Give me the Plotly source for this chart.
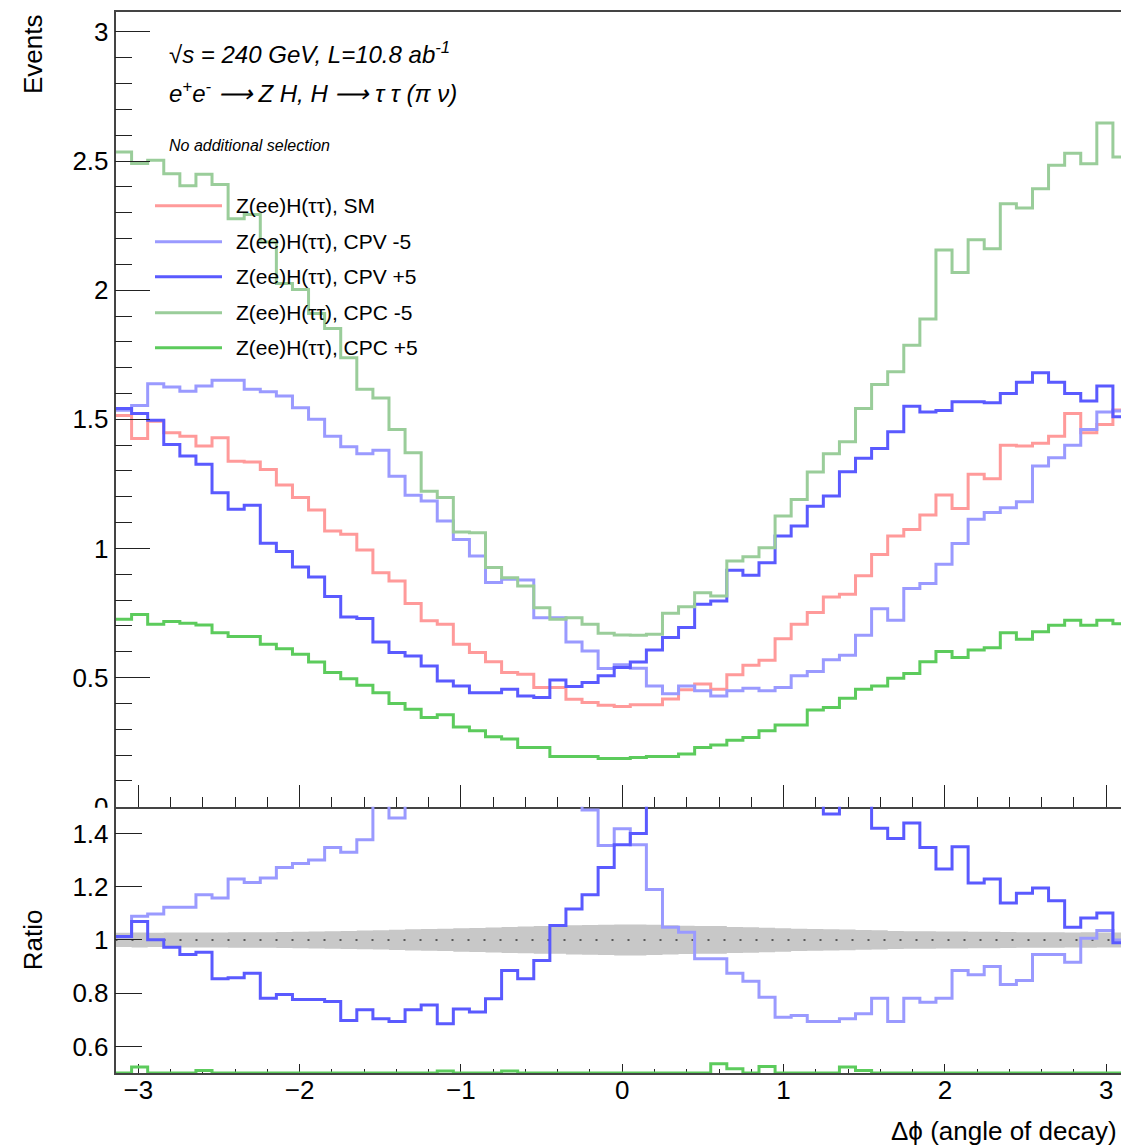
import numpy as np
import plotly.graph_objects as go

# ---------------- data (63 bins in [-pi, pi]) ----------------
N_BINS = 63

sm = [1.515, 1.426, 1.493, 1.448, 1.435, 1.397, 1.429, 1.338, 1.335, 1.306,
      1.246, 1.197, 1.149, 1.068, 1.055, 0.994, 0.906, 0.874, 0.787, 0.720,
      0.707, 0.629, 0.597, 0.562, 0.520, 0.513, 0.462, 0.462, 0.416, 0.404,
      0.393, 0.388,
      0.395, 0.395, 0.417, 0.453, 0.475, 0.455, 0.511, 0.548, 0.567, 0.651,
      0.707, 0.752, 0.812, 0.823, 0.894, 0.977, 1.048, 1.074, 1.130, 1.207,
      1.155, 1.287, 1.270, 1.400, 1.397, 1.407, 1.435, 1.523, 1.448, 1.480,
      1.536]

cpv_m5 = [1.535, 1.554, 1.638, 1.625, 1.609, 1.629, 1.651, 1.651, 1.616, 1.607,
          1.590, 1.545, 1.500, 1.435, 1.394, 1.367, 1.380, 1.280, 1.206, 1.184,
          1.106, 1.035, 0.971, 0.868, 0.881, 0.878, 0.732, 0.732, 0.638, 0.603,
          0.535, 0.550,
          0.536, 0.468, 0.438, 0.468, 0.449, 0.429, 0.449, 0.459, 0.449, 0.462,
          0.507, 0.524, 0.569, 0.587, 0.664, 0.767, 0.722, 0.845, 0.864, 0.939,
          1.019, 1.113, 1.139, 1.158, 1.181, 1.319, 1.351, 1.400, 1.461, 1.528,
          1.532]

cpv_p5 = [1.542, 1.523, 1.496, 1.403, 1.358, 1.326, 1.216, 1.152, 1.167, 1.020,
          0.988, 0.928, 0.890, 0.814, 0.735, 0.729, 0.638, 0.597, 0.584, 0.545,
          0.487, 0.468, 0.442, 0.442, 0.455, 0.429, 0.423, 0.491, 0.466, 0.481,
          0.507, 0.539,
          0.561, 0.607, 0.655, 0.694, 0.784, 0.797, 0.916, 0.896, 0.945, 1.048,
          1.087, 1.164, 1.203, 1.297, 1.349, 1.387, 1.452, 1.551, 1.528, 1.534,
          1.568, 1.568, 1.564, 1.600, 1.644, 1.680, 1.644, 1.600, 1.571, 1.629,
          1.510]

cpc_m5 = [2.535, 2.490, 2.503, 2.451, 2.404, 2.449, 2.409, 2.277, 2.293, 2.187,
          2.026, 2.003, 1.910, 1.852, 1.738,
          1.616, 1.583, 1.461, 1.371, 1.222, 1.197, 1.064, 1.061, 0.926, 0.887,
          0.855, 0.771, 0.726, 0.732, 0.707, 0.672, 0.665,
          0.664, 0.668, 0.749, 0.774, 0.829, 0.816, 0.952, 0.968, 1.003, 1.126,
          1.190, 1.296, 1.367, 1.413, 1.542, 1.635, 1.684, 1.787,
          1.888, 2.156, 2.068, 2.195, 2.160, 2.335, 2.318, 2.393, 2.484, 2.530,
          2.489, 2.647, 2.516]

cpc_p5 = [0.726, 0.744, 0.707, 0.717, 0.711, 0.704, 0.674, 0.659, 0.659, 0.629,
          0.612, 0.591, 0.561, 0.520, 0.496, 0.471, 0.442, 0.400, 0.378, 0.346,
          0.356, 0.309, 0.294, 0.271, 0.262, 0.230, 0.230, 0.195, 0.195, 0.195,
          0.187, 0.187,
          0.191, 0.195, 0.195, 0.204, 0.230, 0.239, 0.258, 0.268, 0.294, 0.317,
          0.317, 0.375, 0.384, 0.420, 0.455, 0.468, 0.498, 0.516, 0.562, 0.601,
          0.578, 0.607, 0.616, 0.674, 0.649, 0.678, 0.703, 0.722, 0.703, 0.722,
          0.709]

# ratios to SM as read from the lower pad
ratio_cpv_p5 = [1.0125, 1.069, 1.001, 0.9725, 0.945, 0.954, 0.854, 0.858, 0.875, 0.781,
                0.795, 0.776, 0.776, 0.769, 0.6975, 0.7375, 0.704, 0.694, 0.7375, 0.756,
                0.685, 0.741, 0.729, 0.779, 0.885, 0.854, 0.9225, 1.054, 1.116, 1.17,
                1.2725, 1.3575, 1.40,
                1.54, 1.57, 1.53, 1.65, 1.75, 1.79, 1.64, 1.67, 1.61, 1.54,
                1.55, 1.4725, 1.58, 1.52,
                1.419, 1.381, 1.439, 1.3475, 1.266, 1.35, 1.214, 1.229, 1.139, 1.175,
                1.195, 1.1475, 1.0475, 1.0825, 1.101, 0.989]

ratio_cpv_m5 = [1.012, 1.089, 1.0975, 1.1225, 1.1225, 1.17, 1.1575, 1.229, 1.216, 1.2325,
                1.2725, 1.2875, 1.30, 1.3475, 1.329, 1.376,
                1.52, 1.4575, 1.53, 1.64, 1.56, 1.65, 1.63, 1.54, 1.69, 1.71,
                1.58, 1.58, 1.53,
                1.488, 1.355, 1.418, 1.3575, 1.189, 1.0475, 1.029, 0.929, 0.929, 0.875,
                0.845, 0.785, 0.71, 0.716, 0.694, 0.694, 0.704, 0.7225, 0.781, 0.694,
                0.781, 0.766, 0.781, 0.885, 0.869, 0.9, 0.8325, 0.8475, 0.945, 0.945,
                0.916, 1.006, 1.035, 1.0]

ratio_cpc_p5 = [0.5, 0.5225, 0.5, 0.5, 0.5, 0.51, 0.5, 0.5, 0.5, 0.5,
                0.5, 0.5, 0.5, 0.5, 0.5, 0.5, 0.5, 0.5, 0.5, 0.5,
                0.508, 0.5, 0.5, 0.5, 0.508, 0.5, 0.5, 0.5, 0.5, 0.5,
                0.5, 0.5, 0.5, 0.5, 0.5, 0.5, 0.5, 0.535, 0.516, 0.5,
                0.525, 0.5, 0.5, 0.5, 0.5, 0.5225, 0.51, 0.5, 0.5, 0.5,
                0.5, 0.5, 0.5, 0.5, 0.5, 0.5, 0.5, 0.5, 0.5, 0.5,
                0.5, 0.5, 0.5]

# SM relative statistical uncertainty (grey band half-width)
sm_rel_err = [0.027, 0.028, 0.027, 0.028, 0.028, 0.028, 0.028, 0.029, 0.029, 0.029,
              0.030, 0.031, 0.032, 0.033, 0.034, 0.035, 0.036, 0.038, 0.040, 0.041,
              0.042, 0.044, 0.045, 0.047, 0.049, 0.050, 0.052, 0.052, 0.055, 0.056,
              0.057, 0.058, 0.058, 0.057, 0.055, 0.053, 0.052, 0.052, 0.049, 0.048,
              0.046, 0.044, 0.042, 0.041, 0.040, 0.039, 0.037, 0.036, 0.034, 0.033,
              0.033, 0.032, 0.032, 0.031, 0.031, 0.030, 0.029, 0.029, 0.029, 0.028,
              0.029, 0.028, 0.028]

series_names = ["Z(ee)H(ττ), SM", "Z(ee)H(ττ), CPV -5", "Z(ee)H(ττ), CPV +5",
                "Z(ee)H(ττ), CPC -5", "Z(ee)H(ττ), CPC +5"]
series_colors = ["#ff9a9a", "#9a9aff", "#5a5aff", "#9acd9a", "#5ccb5c"]
x_ticks = [-3, -2, -1, 0, 1, 2, 3]

# ---------------- geometry ----------------
W = 1121
H_REF = 1147      # pixel frame in which positions below are given
H_FIG = 1161      # figure height that ends up shown as 1147 px
edges = np.linspace(-np.pi, np.pi, N_BINS + 1)


def step_y(vals):
    v = list(vals)
    return v + [v[-1]]


def px_x(p):
    return p / W


def px_y(p):
    return 1 - p / H_REF


FONT = "Liberation Sans, Arial, Helvetica, sans-serif"
AX = "#444444"
TK = "#222222"

fig = go.Figure()

# upper pad histograms
for vals, name, col in zip([sm, cpv_m5, cpv_p5, cpc_m5, cpc_p5], series_names, series_colors):
    fig.add_trace(go.Scatter(x=edges, y=step_y(vals), mode="lines", line_shape="hv",
                             line=dict(color=col, width=3), name=name, showlegend=False,
                             xaxis="x", yaxis="y"))

# lower pad: SM uncertainty band
lo = [1 - e for e in sm_rel_err]
hi = [1 + e for e in sm_rel_err]
fig.add_trace(go.Scatter(x=edges, y=step_y(lo), mode="lines", line_shape="hv",
                         line=dict(width=0, color="#c8c8c8"), showlegend=False,
                         xaxis="x2", yaxis="y2"))
fig.add_trace(go.Scatter(x=edges, y=step_y(hi), mode="lines", line_shape="hv",
                         line=dict(width=0, color="#c8c8c8"), fill="tonexty",
                         fillcolor="#c8c8c8", showlegend=False, xaxis="x2", yaxis="y2"))
fig.add_trace(go.Scatter(x=[edges[0], edges[-1]], y=[1, 1], mode="lines",
                         line=dict(color="#333333", width=1.6, dash="2px,14px"),
                         showlegend=False, xaxis="x2", yaxis="y2"))
for vals, col in [(ratio_cpv_m5, series_colors[1]), (ratio_cpv_p5, series_colors[2]),
                  (ratio_cpc_p5, series_colors[4])]:
    fig.add_trace(go.Scatter(x=edges, y=step_y(vals), mode="lines", line_shape="hv",
                             line=dict(color=col, width=3), showlegend=False,
                             xaxis="x2", yaxis="y2"))

x_lo, x_hi = -np.pi, 3.092
x_dom = [px_x(115.5), 1.0]
up_dom = [px_y(807.5), px_y(12)]
lo_dom = [px_y(1074), px_y(807.5)]

common_x = dict(range=[x_lo, x_hi], domain=x_dom, showgrid=False, zeroline=False,
                showline=True, linecolor=AX, linewidth=1.5, ticks="inside",
                tickcolor=TK, tickwidth=1, tick0=0, dtick=1)

fig.update_layout(
    width=W, height=H_FIG, margin=dict(l=0, r=0, t=0, b=0),
    paper_bgcolor="white", plot_bgcolor="white",
    font=dict(family=FONT, color="black"),
    xaxis=dict(common_x, anchor="y", mirror=True, showticklabels=False, ticklen=22,
               minor=dict(dtick=0.2, tick0=0, ticks="inside", ticklen=10,
                          tickcolor=TK, tickwidth=1)),
    yaxis=dict(domain=up_dom, anchor="x", range=[0, 3.077], showgrid=False,
               zeroline=False, showline=True, linecolor=AX, linewidth=1.5,
               ticks="inside", ticklen=35, tickcolor=TK, tickwidth=1,
               tick0=0, dtick=0.5, tickfont=dict(size=26, family=FONT),
               minor=dict(dtick=0.1, tick0=0, ticks="inside", ticklen=17,
                          tickcolor=TK, tickwidth=1)),
    xaxis2=dict(common_x, anchor="y2", ticklen=9, tickvals=x_ticks,
                tickfont=dict(size=26, family=FONT), layer="below traces",
                ticklabelstandoff=-7,
                minor=dict(dtick=0.2, tick0=0, ticks="inside", ticklen=4.5,
                           tickcolor=TK, tickwidth=1)),
    yaxis2=dict(domain=lo_dom, anchor="x2", range=[0.5, 1.5], showgrid=False,
                zeroline=False, showline=True, linecolor=AX, linewidth=1.5,
                ticks="inside", ticklen=27, tickcolor=TK, tickwidth=1,
                tickvals=[0.6, 0.8, 1.0, 1.2, 1.4], ticktext=["0.6", "0.8", "1", "1.2", "1.4"],
                tickfont=dict(size=26, family=FONT)),
)

annotations = [
    dict(text="Events", x=px_x(33), y=px_y(12), xanchor="center", yanchor="top",
         textangle=-90, font=dict(size=26)),
    dict(text="Ratio", x=px_x(33), y=px_y(941), xanchor="center", yanchor="middle",
         textangle=-90, font=dict(size=26)),
    dict(text="Δϕ (angle of decay)", x=px_x(1119), y=px_y(1132), xanchor="right",
         yanchor="middle", font=dict(size=26)),
    dict(text="<i>√s = 240 GeV, L=10.8 ab<sup>-1</sup></i>", x=px_x(167), y=px_y(53),
         xanchor="left", yanchor="middle", font=dict(size=24)),
    dict(text="<i>e<sup>+</sup>e<sup>-</sup> ⟶ Z H, H ⟶ τ τ (π ν)</i>", x=px_x(167), y=px_y(92),
         xanchor="left", yanchor="middle", font=dict(size=24)),
    dict(text="<i>No additional selection</i>", x=px_x(167), y=px_y(146),
         xanchor="left", yanchor="middle", font=dict(size=16)),
]
shapes = []
leg_y = [206, 242, 277, 313, 348]
for name, col, yy in zip(series_names, series_colors, leg_y):
    shapes.append(dict(type="line", xref="paper", yref="paper", x0=px_x(155), x1=px_x(222),
                       y0=px_y(yy), y1=px_y(yy), line=dict(color=col, width=3)))
    annotations.append(dict(text=name, x=px_x(234), y=px_y(yy), xanchor="left",
                            yanchor="middle", font=dict(size=21)))
for a in annotations:
    a.update(xref="paper", yref="paper", showarrow=False)

# lower pad hides the lower half of the upper pad's "0" label
shapes.append(dict(type="rect", xref="paper", yref="paper", x0=px_x(60), x1=px_x(113),
                   y0=px_y(822), y1=px_y(808.5), fillcolor="white", line=dict(width=0),
                   layer="above"))
fig.update_layout(annotations=annotations, shapes=shapes)

fig.write_html("out.html")
